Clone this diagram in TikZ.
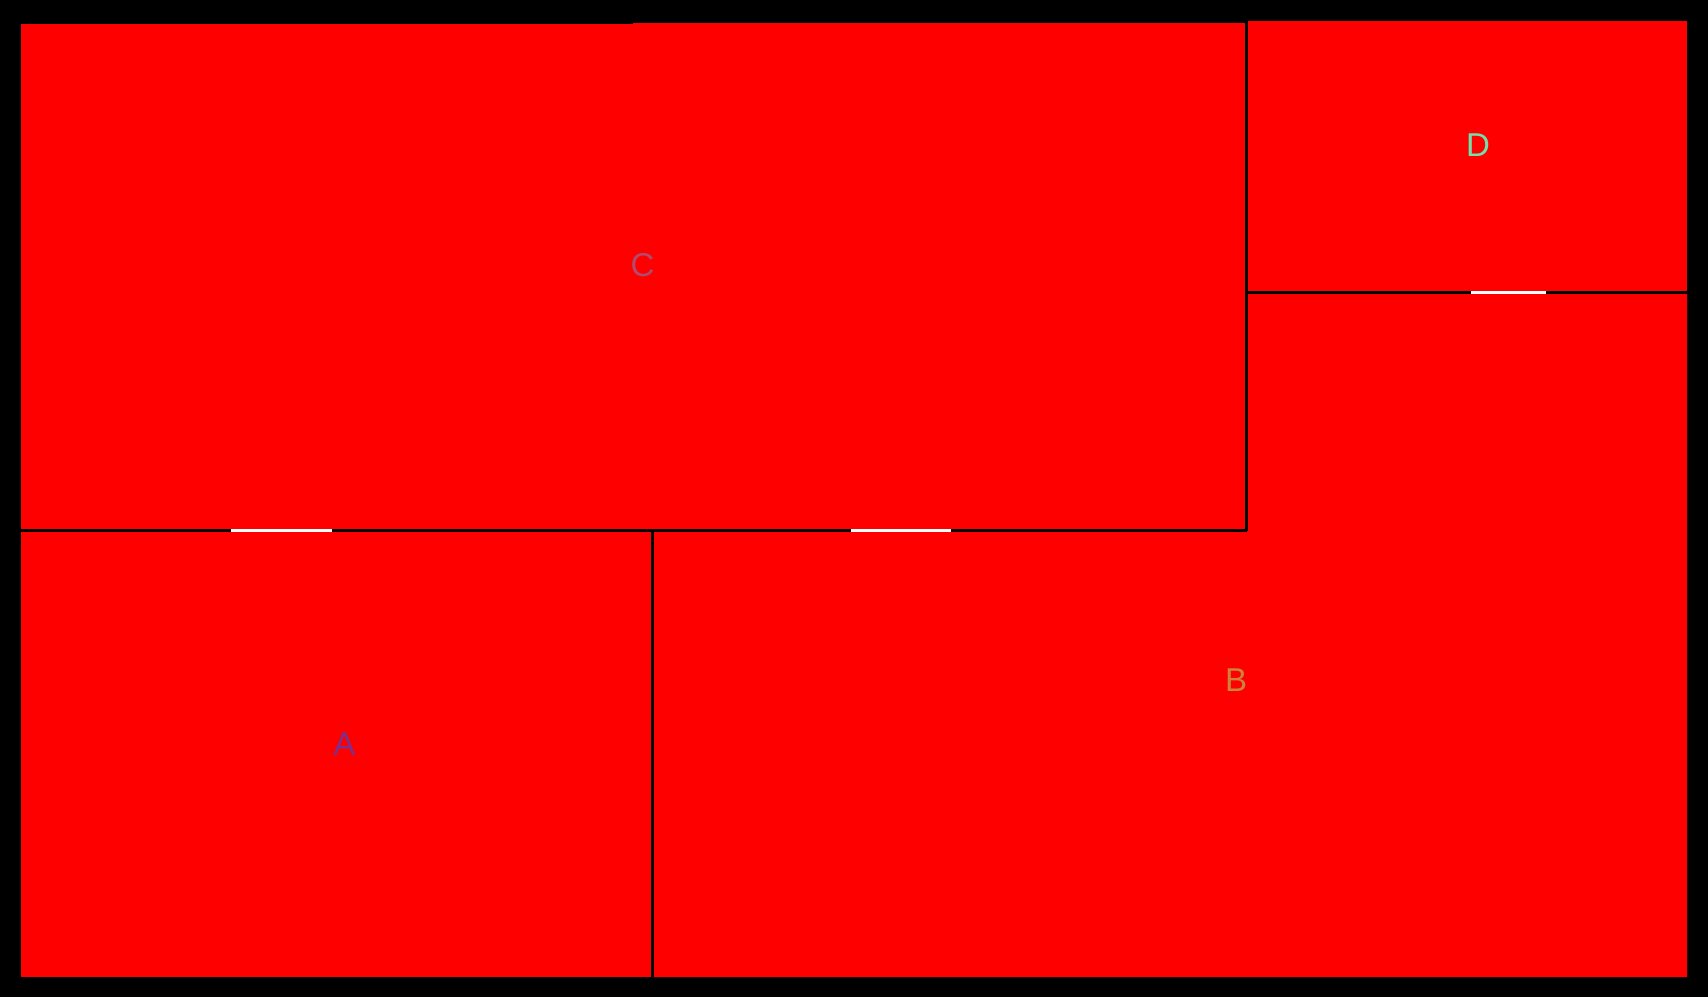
\documentclass[tikz,border=0pt]{standalone}
\usepackage{fontspec}
\setmainfont{Liberation Sans}
\definecolor{roomred}{RGB}{255,0,0}
\definecolor{labA}{RGB}{122,48,140}
\definecolor{labB}{RGB}{204,132,60}
\definecolor{labC}{RGB}{178,74,112}
\definecolor{labD}{RGB}{112,226,172}
\tikzset{
  room/.style={fill=roomred, draw=none},
  wall/.style={draw=black, line width=2.8pt},
  door/.style={draw=white, line width=2.8pt},
  lab/.style={font=\fontsize{33}{33}\selectfont, inner sep=0pt, anchor=center}
}
\begin{document}
\begin{tikzpicture}[x=1pt,y=-1pt]
\useasboundingbox (0,0) rectangle (1708,997);
\fill[black] (0,0) rectangle (1708,997);
% rooms
\path[room] (21,24) -- (633,24) -- (633,23) -- (1246,23) -- (1246,531) -- (21,531) -- cycle;
\path[room] (1246,21) rectangle (1687,293);
\path[room] (1246,292) -- (1687,292) -- (1687,977) -- (652,977) -- (652,530) -- (1246,530) -- cycle;
\path[room] (21,530) rectangle (652,977);
% walls
\coordinate (w1) at (21,530.5);
\coordinate (w2) at (1246.5,530.5);
\coordinate (w3) at (1246.5,21);
\coordinate (w4) at (652.5,530.5);
\coordinate (w5) at (652.5,977);
\coordinate (w6) at (1246.5,292.5);
\coordinate (w7) at (1687,292.5);
\draw[wall] (w1) -- (w2);
\draw[wall] (w3) -- (w2);
\draw[wall] (w4) -- (w5);
\draw[wall] (w6) -- (w7);
% doors
\coordinate (d1a) at (231,530.5);
\coordinate (d1b) at (332,530.5);
\coordinate (d2a) at (851,530.5);
\coordinate (d2b) at (951,530.5);
\coordinate (d3a) at (1471,292.5);
\coordinate (d3b) at (1546,292.5);
\draw[door] (d1a) -- (d1b);
\draw[door] (d2a) -- (d2b);
\draw[door] (d3a) -- (d3b);
% labels
\node[lab, text=labC] (C) at (642.5,265) {C};
\node[lab, text=labD] (D) at (1478,145) {D};
\node[lab, text=labB] (B) at (1236,680) {B};
\node[lab, text=labA] (A) at (344.5,744) {A};
\end{tikzpicture}
\end{document}
